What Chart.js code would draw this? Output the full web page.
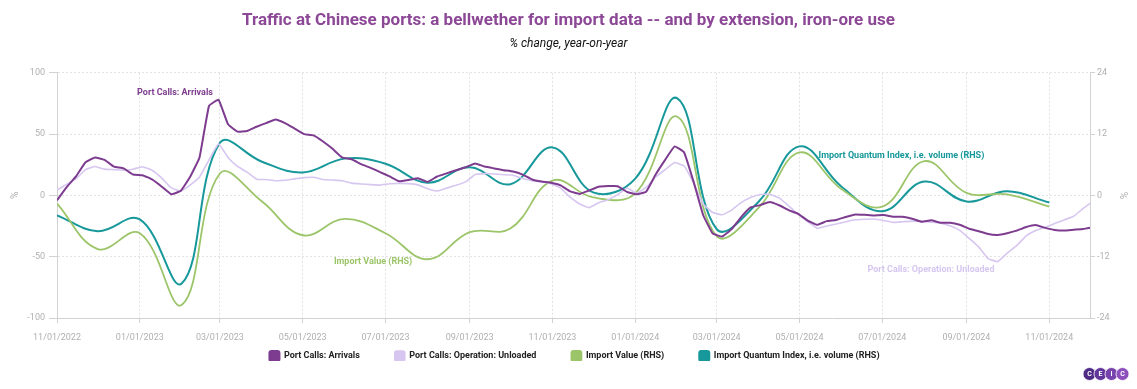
<!DOCTYPE html>
<html>
<head>
<meta charset="utf-8">
<title>Traffic at Chinese ports</title>
<script src="https://cdn.jsdelivr.net/npm/chart.js@4.4.1/dist/chart.umd.min.js"></script>
<style>
    html, body { margin: 0; padding: 0; background: #ffffff; }
    #port-chart { display: block; }
</style>
</head>
<body>
<canvas id="port-chart" width="1137" height="389"></canvas>
<script>
// ---------------- data ----------------

// port calls: weekly readings, % y/y, starting on this date
const portStart = '2022-11-01';
const portStepDays = 7;

const portArrivals = [
    -4, 6.5, 15.5, 27, 31, 29, 23.4, 22, 17, 16.5,
    13, 7.3, 1, 3.5, 15, 31, 73, 78, 58, 52,
    52.5, 56, 59, 62, 59, 54.5, 50, 49, 44, 38,
    31, 29.5, 25.5, 22.5, 19, 15.5, 11.5, 12.5, 14, 11,
    15.4, 18, 20.5, 23, 26, 23.5, 22, 20.6, 19.5, 17,
    13, 11.3, 10.3, 8.2, 3.3, 1.2, 4, 7, 7.6, 7.5,
    2.8, 1, 3, 17, 29, 40, 35, 11, -16, -31,
    -33.6, -27.5, -17.7, -9.8, -7.9, -5.3, -8, -12, -15, -20.5,
    -24, -21, -20, -17.6, -15.5, -15.8, -16.3, -16, -17.4, -17.5,
    -19, -21.5, -20.3, -22.3, -22.3, -24, -27.2, -29.2, -31.5, -32.2,
    -30.8, -28.7, -25.8, -24.2, -26.5, -28.2, -28.7, -28, -27.4, -26
];

const portUnloaded = [
    4.3, 9, 13.6, 21, 23.6, 21.4, 21, 20.5, 21.4, 23.4,
    20.5, 14.3, 6.3, 3.5, 8.4, 15, 29, 42, 31, 23.6,
    19, 13.2, 13, 12, 12.3, 13.5, 14.5, 14.8, 13, 12.5,
    12, 10, 9.3, 8.8, 8.4, 9.5, 9.8, 9.6, 8.6, 5.4,
    3.6, 6, 8.2, 11, 17, 17.8, 17.5, 16.9, 16.5, 13.7,
    12, 11, 9.6, 5.9, -1.5, -7, -10, -6, -3.5, 0.6,
    6, 1.8, 6.5, 15, 21, 26.8, 24, 10, -7, -14,
    -15.8, -12, -5.9, -1.8, 0.7, 1, -2, -8.5, -15.5, -21.4,
    -26.8, -25, -23.4, -21.5, -19.9, -19.5, -19.3, -20.5, -22, -21.5,
    -21, -21.2, -21.8, -22.6, -24.8, -28.5, -35, -42, -51.5, -54,
    -47, -41, -33, -28.6, -25.9, -23, -20, -17, -10.6, -5
];

// import series: monthly, % y/y, plotted on the right-hand axis
const importMonths = [
    '2022-11-01', '2022-12-01', '2023-01-01', '2023-02-01', '2023-03-01',
    '2023-04-01', '2023-05-01', '2023-06-01', '2023-07-01', '2023-08-01',
    '2023-09-01', '2023-10-01', '2023-11-01', '2023-12-01', '2024-01-01',
    '2024-02-01', '2024-03-01', '2024-04-01', '2024-05-01', '2024-06-01',
    '2024-07-01', '2024-08-01', '2024-09-01', '2024-10-01', '2024-11-01'
];

const importValue = [
    -1.6, -10.5, -7.4, -21.4, 4.3, -1.2, -7.8, -4.6, -7.4, -12.5,
    -7.2, -6.5, 2.9, -0.4, 0.4, 15.4, -8, -2.4, 8.4, 1.2,
    -2.2, 6.7, 0.5, 0.2, -2.2
];

const importQuantum = [
    -3.9, -7, -4.7, -17.2, 10.3, 6.6, 4.5, 7.2, 6.2, 2.5,
    5.5, 2.2, 9.4, 0.6, 3.3, 19, -6.6, -1.2, 9.6, 1.7,
    -3.1, 2.7, -1.2, 0.8, -1.4
];

const xTickLabels = [
    '11/01/2022', '01/01/2023', '03/01/2023', '05/01/2023', '07/01/2023',
    '09/01/2023', '11/01/2023', '01/01/2024', '03/01/2024', '05/01/2024',
    '07/01/2024', '09/01/2024', '11/01/2024'
];
const xEnd = '2024-12-01';

const leftTicks = { min: -100, max: 100, step: 50 };
const rightTicks = { min: -24, max: 24, step: 12 };

const seriesNames = [
    'Port Calls: Arrivals',
    'Port Calls: Operation: Unloaded',
    'Import Value (RHS)',
    'Import Quantum Index, i.e. volume (RHS)'
];

// ---------------- helpers ----------------

const DAY_MS = 86400000;
const ORIGIN = Date.UTC(2022, 10, 1);

function isoToDay(iso) {
    const p = iso.split('-').map(Number);
    return Math.round((Date.UTC(p[0], p[1] - 1, p[2]) - ORIGIN) / DAY_MS);
}

function usToDay(s) {
    const p = s.split('/').map(Number);
    return Math.round((Date.UTC(p[2], p[0] - 1, p[1]) - ORIGIN) / DAY_MS);
}

const portFirstDay = isoToDay(portStart);
function weekly(values) {
    return values.map((v, i) => ({ x: portFirstDay + i * portStepDays, y: v }));
}
function monthly(values) {
    return values.map((v, i) => ({ x: isoToDay(importMonths[i]), y: v }));
}

const xTickDays = xTickLabels.map(usToDay);
const labelForDay = {};
xTickDays.forEach((d, i) => { labelForDay[d] = xTickLabels[i]; });

const FONT = 'Roboto';
const C_ARRIVALS = '#7d3c8f';
const C_UNLOADED = '#d6c6f0';
const C_VALUE = '#9cc56a';
const C_QUANTUM = '#17989a';
const C_TICK = '#b0b0b0';
const C_AXIS = '#d2d2d2';
const C_GRID = '#e2e2e2';

// series names written next to the lines
const lineNotes = [
    { text: seriesNames[0], day: 59, value: 83.7, color: C_ARRIVALS },
    { text: seriesNames[2], day: 204, value: -54.5, color: C_VALUE },
    { text: seriesNames[3], day: 561, value: 32.5, color: C_QUANTUM },
    { text: seriesNames[1], day: 597, value: -61, color: C_UNLOADED }
];

const notesPlugin = {
    id: 'lineNotes',
    afterDatasetsDraw(chart) {
        const ctx = chart.ctx;
        const x = chart.scales.x;
        const y = chart.scales.yLeft;
        ctx.save();
        ctx.font = `bold 9px ${FONT}`;
        ctx.textAlign = 'left';
        ctx.textBaseline = 'middle';
        lineNotes.forEach(n => {
            ctx.fillStyle = n.color;
            ctx.fillText(n.text, x.getPixelForValue(n.day), y.getPixelForValue(n.value));
        });
        ctx.restore();
    }
};

// the legend sits closer to the axis labels than chart.js would put it
const legendNudge = {
    id: 'legendNudge',
    afterLayout(chart) {
        const lg = chart.legend;
        lg.top -= 28;
        lg.bottom -= 28;
        lg.left += 6;
        lg.right += 6;
    }
};

// small CEIC badge, bottom right
const badgePlugin = {
    id: 'ceicBadge',
    afterDraw(chart) {
        const ctx = chart.ctx;
        const letters = ['C', 'E', 'I', 'C'];
        const fills = ['#4f2b86', '#62359a', '#7742ab', '#8c4fbb'];
        const r = 6.5;
        const cy = 374;
        ctx.save();
        letters.forEach((ch, i) => {
            const cx = 1089.5 + i * 11;
            ctx.beginPath();
            ctx.arc(cx, cy, r, 0, Math.PI * 2);
            ctx.fillStyle = fills[i];
            ctx.fill();
            ctx.strokeStyle = '#ffffff';
            ctx.lineWidth = 0.8;
            ctx.stroke();
            ctx.fillStyle = '#ffffff';
            ctx.font = `bold 7px ${FONT}`;
            ctx.textAlign = 'center';
            ctx.textBaseline = 'middle';
            ctx.fillText(ch, cx, cy + 0.5);
        });
        ctx.restore();
    }
};

// ---------------- chart ----------------

const canvas = document.getElementById('port-chart');

const chart = new Chart(canvas, {
    type: 'line',
    data: {
        datasets: [
            {
                label: seriesNames[0],
                data: weekly(portArrivals),
                yAxisID: 'yLeft',
                borderColor: C_ARRIVALS,
                backgroundColor: C_ARRIVALS,
                borderWidth: 2,
                tension: 0.1
            },
            {
                label: seriesNames[1],
                data: weekly(portUnloaded),
                yAxisID: 'yLeft',
                borderColor: C_UNLOADED,
                backgroundColor: C_UNLOADED,
                borderWidth: 1.6,
                tension: 0.1
            },
            {
                label: seriesNames[2],
                data: monthly(importValue),
                yAxisID: 'yRight',
                borderColor: C_VALUE,
                backgroundColor: C_VALUE,
                borderWidth: 1.8,
                tension: 0.4
            },
            {
                label: seriesNames[3],
                data: monthly(importQuantum),
                yAxisID: 'yRight',
                borderColor: C_QUANTUM,
                backgroundColor: C_QUANTUM,
                borderWidth: 2,
                tension: 0.4
            }
        ]
    },
    options: {
        responsive: false,
        animation: false,
        devicePixelRatio: 1,
        elements: { point: { radius: 0, hoverRadius: 0 } },
        layout: { padding: { top: 0, left: 0, right: 0, bottom: 0 } },
        plugins: {
            title: {
                display: true,
                text: 'Traffic at Chinese ports: a bellwether for import data -- and by extension, iron-ore use',
                color: '#8c4796',
                font: { family: FONT, size: 17, weight: 'bold' },
                padding: { top: 11, bottom: 2.4 }
            },
            subtitle: {
                display: true,
                text: '% change, year-on-year',
                color: '#111111',
                font: { family: FONT, size: 12, style: 'italic' },
                padding: { top: 3, bottom: 21.6 }
            },
            legend: {
                position: 'bottom',
                maxHeight: 45,
                labels: {
                    boxWidth: 10,
                    boxHeight: 10,
                    padding: 35,
                    color: '#222222',
                    useBorderRadius: true,
                    borderRadius: 2,
                    font: { family: FONT, size: 9, weight: 'bold' }
                }
            },
            tooltip: { enabled: false }
        },
        scales: {
            x: {
                type: 'linear',
                min: 0,
                max: isoToDay(xEnd),
                afterBuildTicks: (axis) => {
                    axis.ticks = xTickDays.map(d => ({ value: d }));
                },
                afterFit: (axis) => { axis.height = 26; },
                ticks: {
                    autoSkip: false,
                    maxRotation: 0,
                    padding: 9,
                    color: C_TICK,
                    font: { family: FONT, size: 9 },
                    callback: (v) => labelForDay[v] || ''
                },
                grid: { color: C_GRID, tickColor: C_AXIS, tickLength: 5 },
                border: { display: true, color: C_AXIS, dash: [2, 2] }
            },
            yLeft: {
                type: 'linear',
                position: 'left',
                min: leftTicks.min,
                max: leftTicks.max,
                afterFit: (axis) => { axis.width = 57; },
                ticks: {
                    stepSize: leftTicks.step,
                    padding: 4,
                    color: C_TICK,
                    font: { family: FONT, size: 9 }
                },
                title: {
                    display: true,
                    text: '%',
                    color: C_TICK,
                    font: { family: FONT, size: 10 },
                    padding: { top: 9, bottom: 0 }
                },
                grid: { color: C_GRID, tickColor: C_AXIS, tickLength: 8 },
                border: { display: true, color: C_AXIS, dash: [2, 2] }
            },
            yRight: {
                type: 'linear',
                position: 'right',
                min: rightTicks.min,
                max: rightTicks.max,
                afterFit: (axis) => { axis.width = 47; },
                ticks: {
                    stepSize: rightTicks.step,
                    padding: 2,
                    color: C_TICK,
                    font: { family: FONT, size: 9 }
                },
                title: {
                    display: true,
                    text: '%',
                    color: C_TICK,
                    font: { family: FONT, size: 10 },
                    padding: { top: 9, bottom: 0 }
                },
                grid: { drawOnChartArea: false, color: C_AXIS, tickColor: C_AXIS, tickLength: 5 },
                border: { display: true, color: C_AXIS }
            }
        }
    },
    plugins: [notesPlugin, legendNudge, badgePlugin]
});
</script>
</body>
</html>
